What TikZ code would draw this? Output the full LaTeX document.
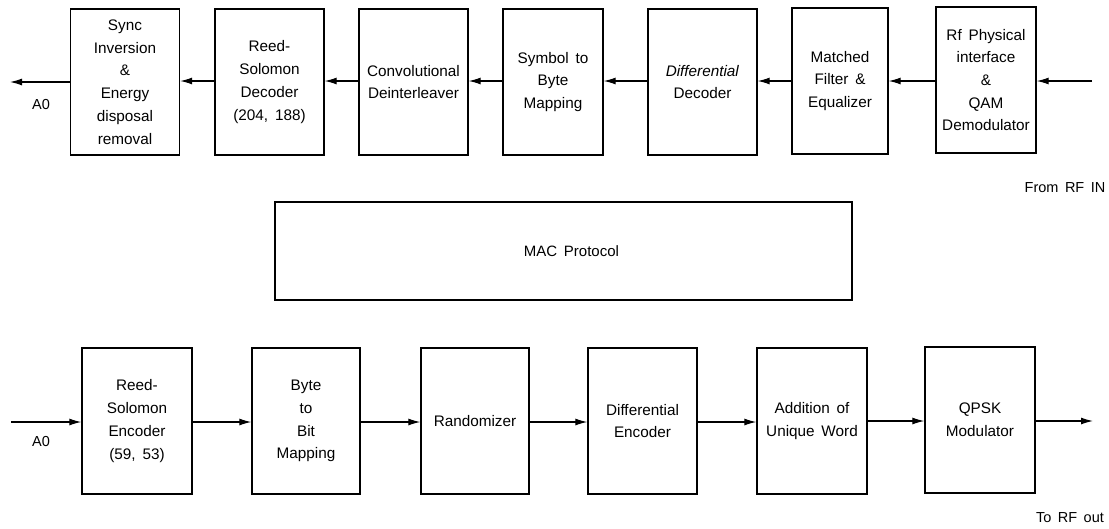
\documentclass[tikz,border=0pt]{standalone}
\usepackage{fontspec}
\setmainfont{Liberation Sans}[WordSpace={1.6}]
\usetikzlibrary{arrows.meta}
\begin{document}
\begin{tikzpicture}[x=1pt,y=-1pt,
  blk/.style={draw,line width=1.3pt,minimum width=109pt,minimum height=146pt,align=center,inner sep=2pt,
    font=\fontsize{15.3}{22.7}\selectfont},
  conn/.style={line width=1.2pt,-{Latex[length=12pt,width=7pt]}},
  lbl/.style={font=\fontsize{14.5}{16}\selectfont,inner sep=0pt}]
\useasboundingbox (0,0) rectangle (1109,528);
% top row
\node[blk] (t1) at (125,82) {Sync\\Inversion\\\&\\Energy\\disposal\\removal};
\node[blk] (t2) at (269.5,82) {Reed-\\Solomon\\Decoder\\(204, 188)};
\node[blk] (t3) at (413.5,82) {Convolutional\\Deinterleaver};
\node[blk,minimum width=100pt] (t4) at (553,82) {Symbol to\\Byte\\Mapping};
\node[blk] (t5) at (702.5,82) {\textit{Differential}\\Decoder};
\node[blk,minimum width=96pt] (t6) at (840,81) {Matched\\Filter \&\\Equalizer};
\node[blk,minimum width=100pt] (t7) at (986,80) {Rf Physical\\interface\\\&\\QAM\\Demodulator};
\coordinate (tin) at (1092,81);
\coordinate (tout) at (10,82);
\draw[conn] (tin) -- (t7.east |- tin);
\draw[conn] (t7.west |- tin) -- (t6.east |- tin);
\draw[conn] (t6.west |- tin) -- (t5.east |- tin);
\draw[conn] (t5.west |- tin) -- (t4.east |- tin);
\draw[conn] (t4.west |- tin) -- (t3.east |- tin);
\draw[conn] (t3.west |- tin) -- (t2.east |- tin);
\draw[conn] (t2.west |- tin) -- (t1.east |- tin);
\draw[conn] (t1.west |- tout) -- (tout);
\node[lbl] (a0t) at (41,105) {A0};
\node[lbl] (rfin) at (1065,188) {From RF IN};
% MAC
\node[draw,line width=1.3pt,minimum width=577pt,minimum height=98pt,font=\fontsize{15}{17}\selectfont] (mac) at (563.5,251) {\hspace*{16pt}MAC Protocol};
% bottom row
\node[blk,minimum width=110pt] (b1) at (137,421) {Reed-\\Solomon\\Encoder\\(59, 53)};
\node[blk,minimum width=108pt] (b2) at (306,421) {Byte\\to\\Bit\\Mapping};
\node[blk,minimum width=108pt] (b3) at (475,421) {Randomizer};
\node[blk] (b4) at (642.5,421) {Differential\\Encoder};
\node[blk,minimum width=110pt] (b5) at (812,421) {Addition of\\Unique Word};
\node[blk,minimum width=110pt] (b6) at (980,420) {QPSK\\Modulator};
\coordinate (bin) at (11,422);
\coordinate (bout) at (1093,421);
\draw[conn] (bin) -- (b1.west |- bin);
\draw[conn] (b1.east |- bin) -- (b2.west |- bin);
\draw[conn] (b2.east |- bin) -- (b3.west |- bin);
\draw[conn] (b3.east |- bin) -- (b4.west |- bin);
\draw[conn] (b4.east |- bin) -- (b5.west |- bin);
\draw[conn] (b5.east |- bout) -- (b6.west |- bout);
\draw[conn] (b6.east |- bout) -- (bout);
\node[lbl] (a0b) at (41,442) {A0};
\node[lbl] (rfout) at (1070,518) {To RF out};
\end{tikzpicture}
\end{document}
